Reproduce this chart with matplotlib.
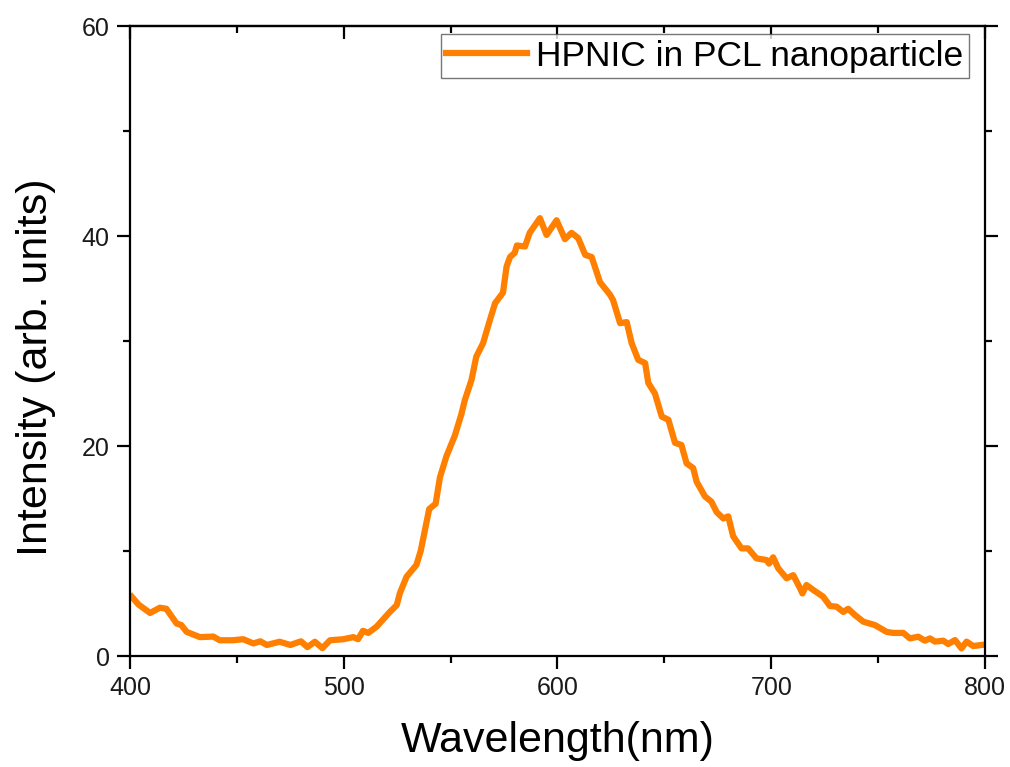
"""
Emission spectrum of HPNIC in PCL nanoparticles.

Output:
    - out.png
"""
import matplotlib
matplotlib.use("Agg")
import matplotlib.pyplot as plt
from matplotlib.ticker import MultipleLocator

plt.rcParams['font.family'] = ['Liberation Sans', 'DejaVu Sans']

# Values
wavelength = [400.8, 404, 409.4, 414, 417, 421.8, 424, 426.5, 432.7, 439, 442, 448, 453,
              457.7, 461, 464, 470, 475, 480, 483, 486.5, 490, 493.6, 499.8, 504.5, 506.7,
              509, 511.5, 515.4, 518.5, 521.6, 524.8, 526.3, 529.4, 534, 536, 538, 540, 543,
              545, 548, 552, 555, 556.7, 559.8, 562, 565.2, 568.4, 570.8, 574.5, 576.2,
              577.8, 580, 581, 584.8, 587, 591.8, 594.9, 599.6, 603.5, 606.6, 609.7, 613,
              616, 619.9, 624.6, 626, 629.3, 632.4, 634.7, 637.8, 641, 642.5, 645.6, 648.8,
              651.9, 655, 658, 660.4, 663.5, 665.1, 669, 672, 674.5, 677.6, 679.9, 682.2,
              686.1, 689.2, 693.1, 697.8, 699, 700.9, 703.3, 707.2, 710.3, 713.5, 714.6,
              716.5, 719.6, 724.3, 727.5, 730.6, 733.7, 736, 739.2, 743.1, 748.5, 754, 757,
              761.8, 764.9, 768.8, 771.9, 774.3, 776.6, 780.5, 782.8, 786, 789, 791.4,
              794.5, 798.4]
intensity = [5.65, 4.9, 4.1, 4.6, 4.5, 3.1, 2.95, 2.3, 1.8, 1.85, 1.5, 1.5, 1.6,
             1.2, 1.4, 1.05, 1.36, 1.05, 1.4, 0.85, 1.36, 0.75, 1.5, 1.6, 1.8, 1.6,
             2.4, 2.2, 2.8, 3.5, 4.2, 4.85, 6.0, 7.55, 8.67, 10.0, 12.0, 14.0, 14.5,
             17.0, 19.0, 21.0, 23.0, 24.4, 26.3, 28.5, 29.8, 32.0, 33.6, 34.6, 37.1,
             38.0, 38.4, 39.1, 39.0, 40.3, 41.7, 40.1, 41.5, 39.7, 40.3, 39.8, 38.2,
             38.0, 35.6, 34.4, 33.9, 31.7, 31.8, 29.8, 28.2, 27.9, 26.0, 25.0, 22.8,
             22.5, 20.3, 20.1, 18.35, 17.9, 16.6, 15.2, 14.7, 13.7, 13.1, 13.3, 11.4,
             10.25, 10.25, 9.3, 9.14, 8.8, 9.4, 8.35, 7.4, 7.7, 6.45, 5.96,
             6.76, 6.3, 5.65, 4.76, 4.7, 4.2, 4.5, 3.9, 3.27, 2.95, 2.3, 2.2,
             2.2, 1.68, 1.84, 1.46, 1.68, 1.37, 1.46, 1.14, 1.52, 0.73, 1.37,
             0.95, 1.05]

x_ticks = [400, 500, 600, 700, 800]
y_ticks = [0, 20, 40, 60]

fig = plt.figure(figsize=(10.1, 7.67), dpi=100)
ax = fig.add_axes([0.1287, 0.1447, 0.8465, 0.8214])

ax.plot(wavelength, intensity, color='#ff7f00', lw=4.5,
        label='HPNIC in PCL nanoparticle')

ax.set_xlim(400, 800)
ax.set_ylim(0, 60)
ax.set_xticks(x_ticks)
ax.set_yticks(y_ticks)
ax.xaxis.set_minor_locator(MultipleLocator(50))
ax.yaxis.set_minor_locator(MultipleLocator(10))

for s in ax.spines.values():
    s.set_linewidth(1.6)

ax.tick_params(axis='x', which='both', direction='out', top=False, width=1.6,
               labelsize=18, pad=5, labelcolor='#1a1a1a')
ax.tick_params(axis='y', which='both', direction='out', right=True, width=1.6,
               labelsize=18, pad=5, labelcolor='#1a1a1a')
ax.tick_params(which='major', length=9.5)
ax.tick_params(which='minor', length=5)

# top axis: ticks pointing inward, no labels
top = ax.secondary_xaxis('top')
top.set_xticks(x_ticks)
top.xaxis.set_minor_locator(MultipleLocator(50))
top.tick_params(which='both', direction='in', width=1.6, labeltop=False)
top.tick_params(which='major', length=9.5)
top.tick_params(which='minor', length=5)
top.spines['top'].set_linewidth(1.6)

ax.set_xlabel('Wavelength(nm)', fontsize=31, labelpad=15)
ax.set_ylabel('Intensity (arb. units)', fontsize=31)
# label sits a bit below the middle of the axis in the original
ax.yaxis.set_label_coords(-0.087, 0.459)

leg = ax.legend(loc='upper right', bbox_to_anchor=(0.981, 0.987), borderaxespad=0,
                fontsize=25.5, frameon=True, fancybox=False, edgecolor='#555555',
                handlelength=2.3, handletextpad=0.25, borderpad=0.15)
leg.get_frame().set_linewidth(1.0)

fig.savefig('out.png', dpi=100)
